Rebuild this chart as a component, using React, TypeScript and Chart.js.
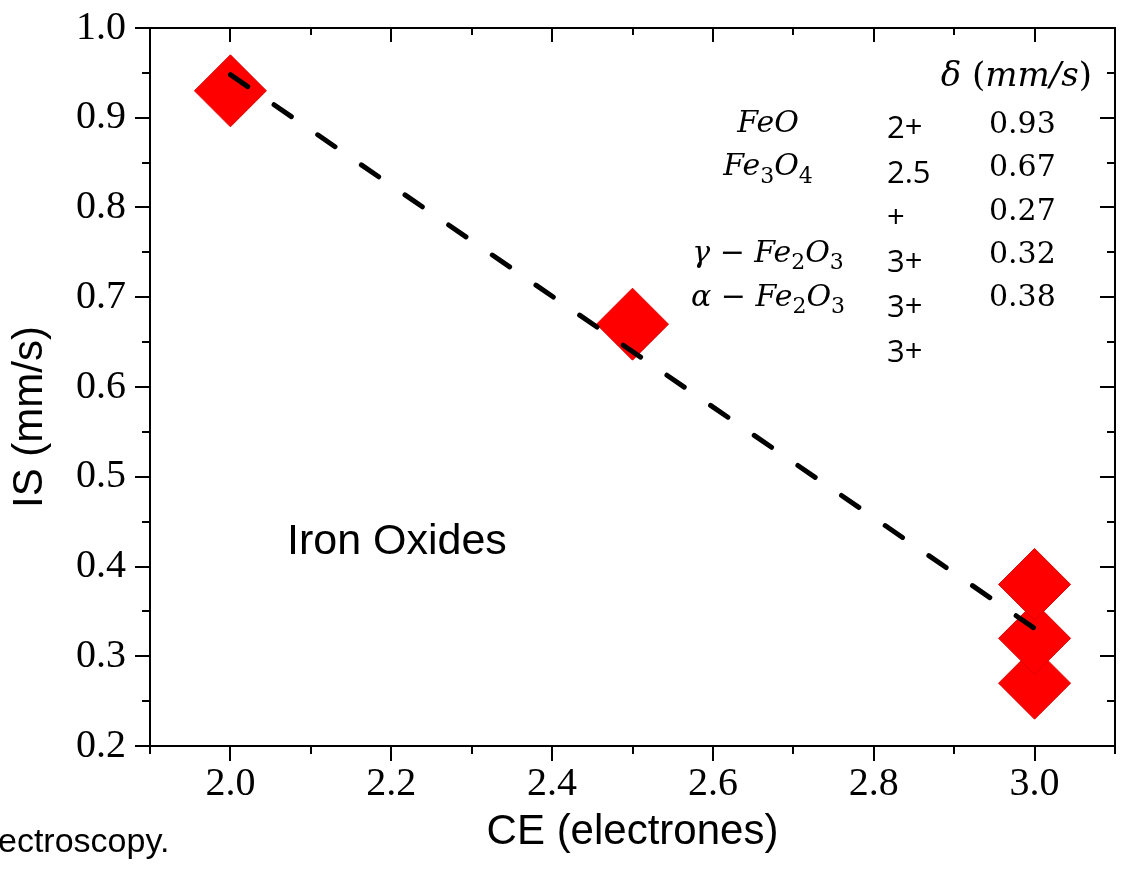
import { useEffect, useRef } from 'react';
import { Chart, registerables } from 'chart.js';

Chart.register(...registerables);

// ---- data ----
const ceValues = [2.0, 2.5, 3.0, 3.0, 3.0];
const isValues = [0.93, 0.67, 0.27, 0.32, 0.38];
const fitCE = [2.0, 3.0];
const fitIS = [0.948, 0.331];

const xMajorTicks = [2.0, 2.2, 2.4, 2.6, 2.8, 3.0];
const xTickLabels = ['2.0', '2.2', '2.4', '2.6', '2.8', '3.0'];
const xMinorTicks = [1.9, 2.1, 2.3, 2.5, 2.7, 2.9, 3.1];
const yMajorTicks = [0.2, 0.3, 0.4, 0.5, 0.6, 0.7, 0.8, 0.9, 1.0];
const yTickLabels = ['0.2', '0.3', '0.4', '0.5', '0.6', '0.7', '0.8', '0.9', '1.0'];
const yMinorTicks = [0.25, 0.35, 0.45, 0.55, 0.65, 0.75, 0.85, 0.95];

type Seg = { t: string; sub?: boolean; up?: boolean };
const deltaHeader: Seg[] = [{ t: 'δ ' }, { t: '(', up: true }, { t: 'mm/s' }, { t: ')', up: true }];
const oxideFormulas: Seg[][] = [
  [{ t: 'FeO' }],
  [{ t: 'Fe' }, { t: '3', sub: true }, { t: 'O' }, { t: '4', sub: true }],
  [],
  [{ t: 'γ ' }, { t: '−', up: true }, { t: ' Fe' }, { t: '2', sub: true }, { t: 'O' }, { t: '3', sub: true }],
  [{ t: 'α ' }, { t: '−', up: true }, { t: ' Fe' }, { t: '2', sub: true }, { t: 'O' }, { t: '3', sub: true }],
];
const oxidationStates = ['2+', '2.5', '+', '3+', '3+', '3+'];
const deltaValues = ['0.93', '0.67', '0.27', '0.32', '0.38'];

const xTitle = 'CE (electrones)';
const yTitle = 'IS (mm/s)';
const insideLabel = 'Iron Oxides';
const captionFragment = 'ectroscopy.';

const MATH_FAMILY = '"DejaVu Serif", "Liberation Serif", serif';
const SANS = '"Liberation Sans", Arial, sans-serif';

function drawRich(
  ctx: CanvasRenderingContext2D,
  segs: Seg[],
  x: number,
  y: number,
  size: number,
  align: 'left' | 'center' | 'right'
) {
  const fontFor = (s: Seg) =>
    `${s.sub || s.up ? '' : 'italic '}${s.sub ? Math.round(size * 0.72) : size}px ${MATH_FAMILY}`;
  let total = 0;
  for (const s of segs) {
    ctx.font = fontFor(s);
    total += ctx.measureText(s.t).width;
  }
  let cx = align === 'center' ? x - total / 2 : align === 'right' ? x - total : x;
  ctx.textAlign = 'left';
  ctx.textBaseline = 'alphabetic';
  for (const s of segs) {
    ctx.font = fontFor(s);
    ctx.fillText(s.t, cx, s.sub ? y + size * 0.24 : y);
    cx += ctx.measureText(s.t).width;
  }
}

const framePlugin = {
  id: 'framePlugin',
  afterDraw(chart: any) {
    const ctx: CanvasRenderingContext2D = chart.ctx;
    const { left, right, top, bottom } = chart.chartArea;
    const xs = chart.scales.x;
    const ys = chart.scales.y;
    ctx.save();
    ctx.strokeStyle = '#000';
    ctx.lineWidth = 2;
    ctx.strokeRect(left, top, right - left, bottom - top);
    ctx.beginPath();
    const majorOut = 15;
    const minorOut = 8;
    for (const v of xMajorTicks) {
      const px = Math.round(xs.getPixelForValue(v));
      ctx.moveTo(px, bottom);
      ctx.lineTo(px, bottom + majorOut);
      ctx.moveTo(px, top);
      ctx.lineTo(px, top + 14);
    }
    for (const v of xMinorTicks) {
      const px = Math.round(xs.getPixelForValue(v));
      ctx.moveTo(px, bottom);
      ctx.lineTo(px, bottom + minorOut);
      ctx.moveTo(px, top);
      ctx.lineTo(px, top + 7);
    }
    for (const v of yMajorTicks) {
      const py = Math.round(ys.getPixelForValue(v));
      ctx.moveTo(left, py);
      ctx.lineTo(left - majorOut, py);
      ctx.moveTo(right, py);
      ctx.lineTo(right - 15, py);
    }
    for (const v of yMinorTicks) {
      const py = Math.round(ys.getPixelForValue(v));
      ctx.moveTo(left, py);
      ctx.lineTo(left - minorOut, py);
      ctx.moveTo(right, py);
      ctx.lineTo(right - 8, py);
    }
    ctx.stroke();

    ctx.fillStyle = '#000';
    // axis titles
    ctx.font = `42px ${SANS}`;
    ctx.textAlign = 'center';
    ctx.textBaseline = 'middle';
    ctx.fillText(xTitle, (left + right) / 2, 832);
    ctx.save();
    ctx.translate(30, 417);
    ctx.rotate(-Math.PI / 2);
    ctx.fillText(yTitle, 0, 0);
    ctx.restore();

    // inside label
    ctx.textAlign = 'left';
    ctx.textBaseline = 'alphabetic';
    ctx.font = `43px ${SANS}`;
    ctx.fillText(insideLabel, 287, 554);

    // caption fragment
    ctx.font = `34px ${SANS}`;
    ctx.fillText(captionFragment, -2, 852);

    // table
    drawRich(ctx, deltaHeader, 1092, 86, 34, 'right');
    oxideFormulas.forEach((f, i) => {
      if (f.length) drawRich(ctx, f, 768, 132 + i * 43.4, 30, 'center');
    });
    ctx.font = `31px "Open Sans", "Noto Sans", sans-serif`;
    ctx.textAlign = 'left';
    oxidationStates.forEach((s, i) => {
      ctx.fillText(s, 887, 138 + i * 44.8);
    });
    ctx.font = `30px ${MATH_FAMILY}`;
    deltaValues.forEach((s, i) => {
      ctx.fillText(s, 989, 133 + i * 43.3);
    });
    ctx.restore();
  },
};

export default function App() {
  const ref = useRef<HTMLCanvasElement | null>(null);
  useEffect(() => {
    if (!ref.current) return;
    const chart = new Chart(ref.current, {
      type: 'scatter',
      data: {
        datasets: [
          {
            label: 'fit',
            data: fitCE.map((x, i) => ({ x, y: fitIS[i] })),
            showLine: true,
            borderColor: '#000',
            borderWidth: 5,
            borderDash: [21, 32],
            borderCapStyle: 'round',
            pointRadius: 0,
            fill: false,
            order: 0,
          } as any,
          {
            label: 'IS',
            data: ceValues.map((x, i) => ({ x, y: isValues[i] })),
            pointStyle: 'rectRot',
            pointRadius: 36,
            pointHoverRadius: 36,
            backgroundColor: '#ff0000',
            borderColor: '#e00000',
            borderWidth: 1,
            order: 1,
          } as any,
        ],
      },
      options: {
        animation: false,
        responsive: false,
        devicePixelRatio: 1,
        layout: { autoPadding: false, padding: { top: 28, right: 10, left: 0, bottom: 0 } },
        plugins: { legend: { display: false }, tooltip: { enabled: false } },
        events: [],
        scales: {
          x: {
            type: 'linear',
            min: 1.9,
            max: 3.1,
            grid: { display: false },
            border: { display: false },
            afterBuildTicks: (s: any) => {
              s.ticks = xMajorTicks.map((v) => ({ value: v }));
            },
            afterFit: (s: any) => {
              s.height = 135;
              s.paddingLeft = 0;
              s.paddingRight = 0;
              s.paddingTop = 0;
              s.paddingBottom = 0;
            },
            ticks: {
              callback: (_v: any, i: number) => xTickLabels[i],
              font: { family: 'Liberation Serif', size: 40 },
              color: '#000',
              padding: 6,
              maxRotation: 0,
              autoSkip: false,
            },
          },
          y: {
            type: 'linear',
            min: 0.2,
            max: 1.0,
            grid: { display: false },
            border: { display: false },
            afterBuildTicks: (s: any) => {
              s.ticks = yMajorTicks.map((v) => ({ value: v }));
            },
            afterFit: (s: any) => {
              s.width = 150;
              s.paddingLeft = 0;
              s.paddingRight = 0;
              s.paddingTop = 0;
              s.paddingBottom = 0;
            },
            ticks: {
              callback: (_v: any, i: number) => yTickLabels[i],
              font: { family: 'Liberation Serif', size: 40 },
              color: '#000',
              padding: 16,
              autoSkip: false,
            },
          },
        },
      } as any,
      plugins: [framePlugin],
    });
    return () => chart.destroy();
  }, []);
  return (
    <div style={{ position: 'fixed', left: 0, top: 0, width: 1125, height: 881, background: '#fff' }}>
      <canvas ref={ref} width={1125} height={881} />
    </div>
  );
}
